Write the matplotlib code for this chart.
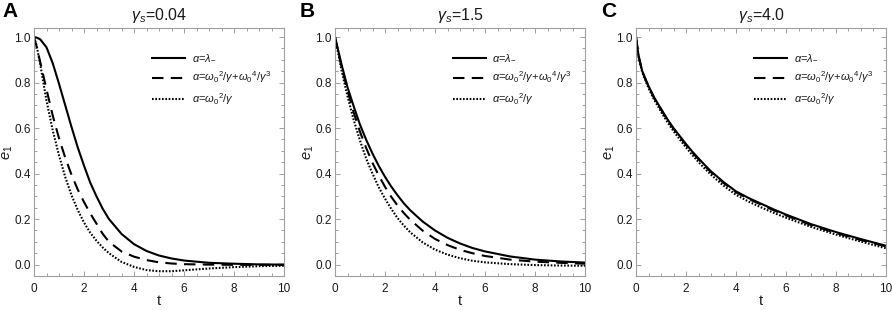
import matplotlib
matplotlib.use("Agg")
import matplotlib.pyplot as plt
from matplotlib.ticker import MultipleLocator

plt.rcParams['font.family'] = ['Liberation Sans', 'DejaVu Sans']
plt.rcParams['mathtext.fontset'] = 'custom'
plt.rcParams['mathtext.rm'] = 'Liberation Sans'
plt.rcParams['mathtext.it'] = 'Liberation Sans:italic'
plt.rcParams['mathtext.bf'] = 'Liberation Sans:bold'

# ---- data ----
t = [0, 0.1, 0.25, 0.5, 0.75, 1, 1.25, 1.5, 1.75, 2, 2.25, 2.5, 2.75, 3,
     3.5, 4, 4.5, 5, 5.5, 6, 7, 8, 9, 10]

panel_letters = ["A", "B", "C"]
panel_titles = [r"$\gamma_s$=0.04", r"$\gamma_s$=1.5", r"$\gamma_s$=4.0"]

A_solid = [1.0, 0.998, 0.99, 0.955, 0.885, 0.795, 0.70, 0.605, 0.515, 0.435, 0.36, 0.30,
           0.245, 0.20, 0.135, 0.09, 0.06, 0.04, 0.027, 0.018, 0.008, 0.004, 0.001, 0.0]
A_dashed = [1.0, 0.96, 0.89, 0.77, 0.655, 0.555, 0.47, 0.395, 0.33, 0.275, 0.225, 0.18,
            0.135, 0.10, 0.058, 0.035, 0.02, 0.01, 0.005, 0.002, 0.0, -0.001, -0.001, -0.001]
A_dotted = [1.0, 0.965, 0.88, 0.72, 0.59, 0.48, 0.385, 0.305, 0.24, 0.185, 0.14, 0.105,
            0.075, 0.05, 0.012, -0.01, -0.024, -0.029, -0.029, -0.025, -0.017, -0.011, -0.007, -0.005]

B_solid = [1.0, 0.955, 0.885, 0.78, 0.695, 0.615, 0.548, 0.488, 0.434, 0.386, 0.343, 0.305,
           0.27, 0.24, 0.19, 0.15, 0.118, 0.093, 0.073, 0.058, 0.036, 0.022, 0.014, 0.009]
B_dashed = [1.0, 0.95, 0.875, 0.765, 0.668, 0.584, 0.512, 0.447, 0.392, 0.342, 0.298, 0.26,
            0.227, 0.198, 0.15, 0.113, 0.086, 0.065, 0.05, 0.038, 0.022, 0.013, 0.008, 0.004]
B_dotted = [1.0, 0.945, 0.86, 0.74, 0.635, 0.545, 0.465, 0.40, 0.34, 0.29, 0.245, 0.205,
            0.172, 0.143, 0.098, 0.066, 0.044, 0.028, 0.017, 0.01, 0.002, -0.002, -0.004, -0.005]

C_solid = [1.0, 0.92, 0.85, 0.785, 0.73, 0.685, 0.64, 0.60, 0.565, 0.53, 0.497, 0.467,
           0.438, 0.41, 0.363, 0.322, 0.293, 0.268, 0.243, 0.22, 0.178, 0.143, 0.112, 0.083]
C_dashed = [1.0, 0.918, 0.848, 0.782, 0.727, 0.682, 0.637, 0.597, 0.561, 0.526, 0.493, 0.463,
            0.434, 0.406, 0.359, 0.318, 0.289, 0.264, 0.239, 0.216, 0.174, 0.139, 0.108, 0.080]
C_dotted = [1.0, 0.915, 0.845, 0.775, 0.72, 0.672, 0.627, 0.587, 0.55, 0.515, 0.482, 0.451,
            0.422, 0.395, 0.347, 0.307, 0.277, 0.252, 0.228, 0.206, 0.166, 0.132, 0.101, 0.072]

series = [(A_solid, A_dashed, A_dotted), (B_solid, B_dashed, B_dotted), (C_solid, C_dashed, C_dotted)]
legend_labels = [r"$\alpha$=$\lambda_{-}$",
                 r"$\alpha$=$\omega_0{}^2$/$\gamma$+$\omega_0{}^4$/$\gamma^3$",
                 r"$\alpha$=$\omega_0{}^2$/$\gamma$"]

# ---- figure ----
W, H = 892, 310
fig = plt.figure(figsize=(W / 100, H / 100), dpi=100)

lefts_px = [34, 335, 636]
ax_w_px = 250
top_px, bot_px = 28, 276
frame_col = "#a0a0a0"
text_col = "#1a1a1a"

for i, (lp, (s1, s2, s3)) in enumerate(zip(lefts_px, series)):
    ax = fig.add_axes([lp / W, 1 - bot_px / H, ax_w_px / W, (bot_px - top_px) / H])
    ax.plot(t, s1, color="black", lw=1.5, ls="-", label=legend_labels[0])
    ax.plot(t, s2, color="black", lw=1.5, ls=(0, (5.5, 3.5)), label=legend_labels[1])
    ax.plot(t, s3, color="black", lw=1.5, ls=(0, (0.8, 0.8)), label=legend_labels[2])
    ax.set_xlim(0, 10)
    ax.set_ylim(-0.05, 1.04)
    ax.xaxis.set_major_locator(MultipleLocator(2))
    ax.xaxis.set_minor_locator(MultipleLocator(0.5))
    ax.yaxis.set_major_locator(MultipleLocator(0.2))
    ax.yaxis.set_minor_locator(MultipleLocator(0.05))
    ax.tick_params(which="both", direction="in", top=True, right=True,
                   color=frame_col, labelcolor=text_col, labelsize=8.5, width=0.7)
    ax.tick_params(which="major", length=3.5)
    ax.tick_params(which="minor", length=2)
    ax.tick_params(axis="x", which="major", pad=5)
    ax.tick_params(axis="y", which="major", pad=2.5)
    ax.yaxis.set_major_formatter(plt.FuncFormatter(lambda v, p: f"{v:.1f}"))
    ax.xaxis.set_major_formatter(plt.FuncFormatter(lambda v, p: f"{v:.0f}"))
    for sp in ax.spines.values():
        sp.set_color(frame_col)
        sp.set_linewidth(0.8)
    ax.set_xlabel("t", fontsize=10.5, color=text_col)
    ax.xaxis.set_label_coords(0.5, -(301 - bot_px) / (bot_px - top_px), transform=ax.transAxes)
    ax.xaxis.label.set_va("center")
    ax.set_ylabel(r"$e_1$", fontsize=10.5, color=text_col)
    ax.yaxis.set_label_coords(-26 / ax_w_px, 0.5)
    ax.yaxis.label.set_va("center")
    ax.set_title(panel_titles[i], fontsize=11.5, color=text_col, pad=6)
    leg = ax.legend(loc="upper left", bbox_to_anchor=(0.47, 0.898), frameon=False,
                    fontsize=8, handlelength=3.0, handletextpad=0.6, labelspacing=0.55,
                    borderpad=0, borderaxespad=0)
    for txt in leg.get_texts():
        txt.set_color(text_col)
    fig.text((lp - 32 if i == 0 else lp - 35) / W, 1 - 2 / H, panel_letters[i],
             fontsize=15, fontweight="bold", ha="left", va="top", color="black")

fig.savefig("out.png", dpi=100)
